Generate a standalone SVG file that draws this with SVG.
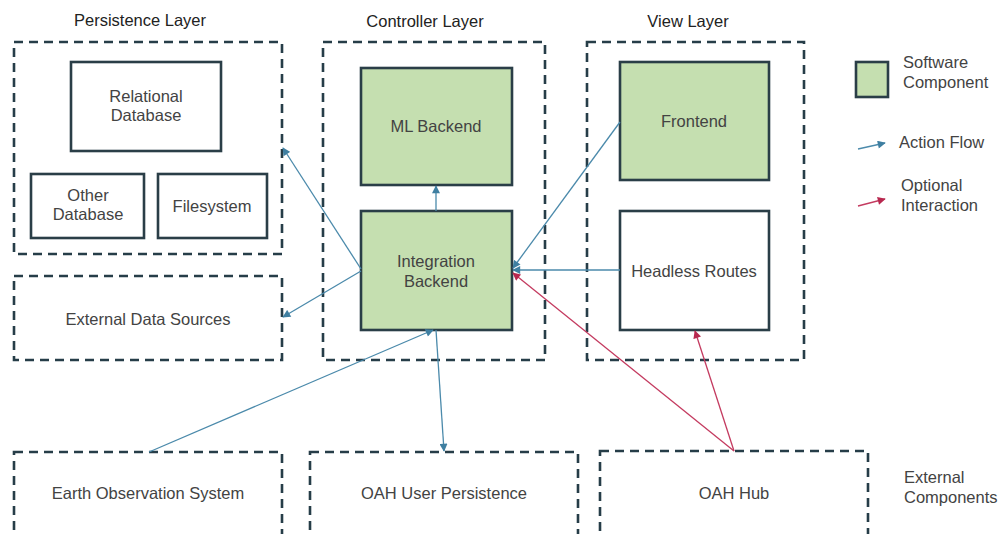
<svg xmlns="http://www.w3.org/2000/svg" width="1001" height="534" viewBox="0 0 1001 534">
<defs>
<style>
text{font-family:"Liberation Sans",Arial,sans-serif;font-size:16.5px;fill:#434343}
.t{text-anchor:middle}
.title{fill:#222}
.layer{fill:none;stroke:#263d48;stroke-width:2.6;stroke-dasharray:9 6}
.node{fill:#fff;stroke:#2a3e47;stroke-width:2.6}
.sw{fill:#c5dfb0;stroke:#2a3e47;stroke-width:2.6}
.blue{stroke:#4b8aab;stroke-width:1.3;fill:none;marker-end:url(#ab)}
.red{stroke:#c43b60;stroke-width:1.3;fill:none;marker-end:url(#ar)}
</style>
<marker id="ab" viewBox="0 0 10 10" refX="9" refY="5" markerWidth="9" markerHeight="8" markerUnits="userSpaceOnUse" orient="auto"><path d="M0,0L10,5L0,10z" fill="#3f7fa1"/></marker>
<marker id="ar" viewBox="0 0 10 10" refX="9" refY="5" markerWidth="9" markerHeight="8" markerUnits="userSpaceOnUse" orient="auto"><path d="M0,0L10,5L0,10z" fill="#b8284f"/></marker>
</defs>
<rect width="1001" height="534" fill="#fff"/>

<g id="persistence-layer">
<text class="t title" x="140" y="26">Persistence Layer</text>
<rect class="layer" x="14" y="42" width="268" height="212"/>
</g>
<g id="relational-db">
<rect class="node" x="71" y="62" width="150" height="89"/>
<text class="t" x="146" y="102">Relational</text>
<text class="t" x="146" y="121">Database</text>
</g>
<g id="other-db">
<rect class="node" x="31" y="174" width="113" height="64"/>
<text class="t" x="88" y="201">Other</text>
<text class="t" x="88" y="220">Database</text>
</g>
<g id="filesystem">
<rect class="node" x="158" y="174" width="109" height="64"/>
<text class="t" x="212" y="212">Filesystem</text>
</g>
<g id="external-data-sources">
<rect class="layer" x="14" y="276" width="268" height="84"/>
<text class="t" x="148" y="325">External Data Sources</text>
</g>

<g id="controller-layer">
<text class="t title" x="425" y="27">Controller Layer</text>
<rect class="layer" x="323" y="42" width="222" height="318"/>
</g>
<g id="ml-backend">
<rect class="sw" x="361" y="68" width="151" height="117"/>
<text class="t" x="436" y="132">ML Backend</text>
</g>
<g id="integration-backend">
<rect class="sw" x="361" y="211" width="151" height="119"/>
<text class="t" x="436" y="267">Integration</text>
<text class="t" x="436" y="287">Backend</text>
</g>

<g id="view-layer">
<text class="t title" x="688" y="27">View Layer</text>
<rect class="layer" x="587" y="42" width="217" height="318"/>
</g>
<g id="frontend">
<rect class="sw" x="620" y="62" width="149" height="118"/>
<text class="t" x="694" y="127">Frontend</text>
</g>
<g id="headless-routes">
<rect class="node" x="620" y="211" width="149" height="119"/>
<text class="t" x="694" y="277">Headless Routes</text>
</g>

<g id="earth-observation-system">
<rect class="layer" x="14" y="452" width="268" height="86"/>
<text class="t" x="148" y="499">Earth Observation System</text>
</g>
<g id="oah-user-persistence">
<rect class="layer" x="310" y="452" width="268" height="86"/>
<text class="t" x="444" y="499">OAH User Persistence</text>
</g>
<g id="oah-hub">
<rect class="layer" x="600" y="451" width="268" height="87"/>
<text class="t" x="734" y="499">OAH Hub</text>
</g>

<g id="legend">
<rect class="sw" x="856" y="62" width="32" height="35"/>
<text x="903" y="68">Software</text>
<text x="903" y="88">Component</text>
<line class="blue" x1="858" y1="149" x2="885" y2="143"/>
<text x="899" y="148">Action Flow</text>
<line class="red" x1="858" y1="206" x2="885" y2="199"/>
<text x="901" y="191">Optional</text>
<text x="901" y="211">Interaction</text>
<text x="904" y="483">External</text>
<text x="904" y="503">Components</text>
</g>

<g id="connectors">
<line class="blue" x1="361" y1="269" x2="283" y2="148"/>
<line class="blue" x1="361" y1="271" x2="283" y2="317"/>
<line class="blue" x1="436" y1="211" x2="436" y2="186"/>
<line class="blue" x1="620" y1="122" x2="513" y2="268"/>
<line class="blue" x1="620" y1="270" x2="513" y2="270"/>
<line class="blue" x1="149" y1="452" x2="433" y2="330"/>
<line class="blue" x1="436" y1="330" x2="444" y2="451"/>
<line class="red" x1="734" y1="451" x2="513" y2="273"/>
<line class="red" x1="734" y1="451" x2="695" y2="331"/>
</g>
</svg>
